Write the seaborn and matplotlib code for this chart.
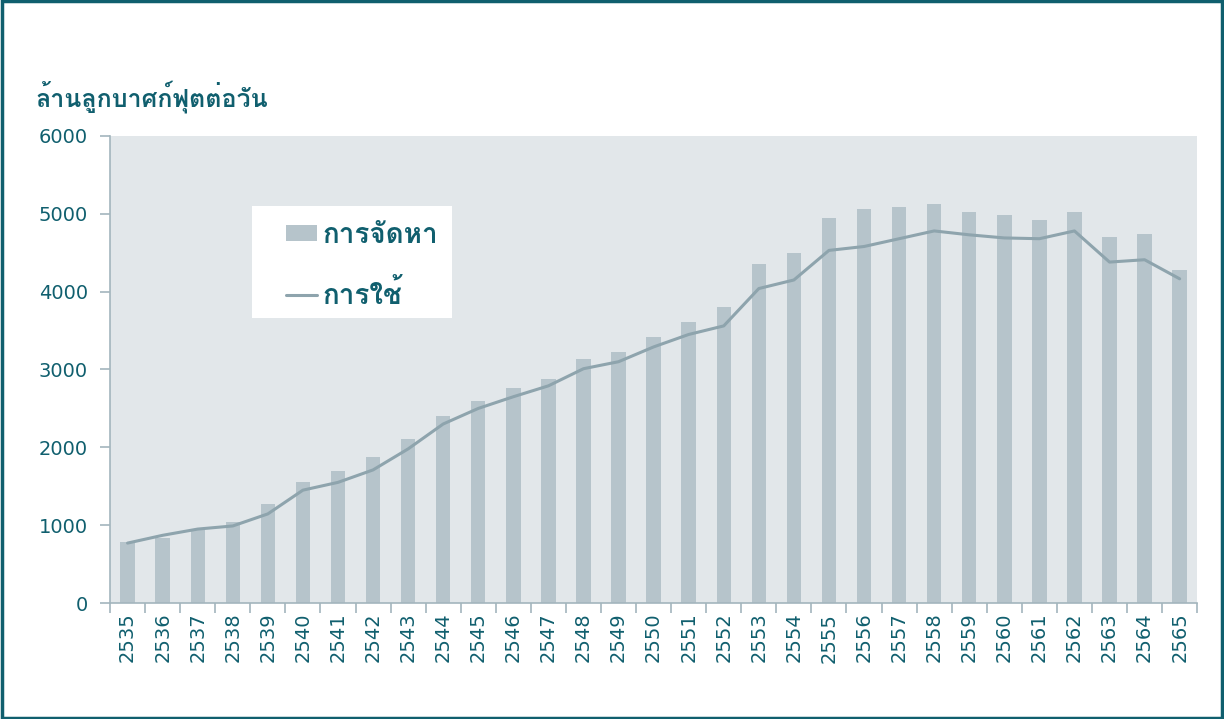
import matplotlib
matplotlib.use("Agg")
import matplotlib.pyplot as plt
from matplotlib import font_manager
from matplotlib.ft2font import FT2Font
from matplotlib.patches import Patch, Rectangle
from matplotlib.lines import Line2D
from matplotlib.ticker import FixedLocator
import seaborn as sns
import pandas as pd

# ข้อมูล (ล้านลูกบาศก์ฟุตต่อวัน)
years = [str(y) for y in range(2535, 2566)]
supply = [780, 835, 950, 1040, 1270, 1560, 1700, 1870, 2110, 2400,
          2600, 2760, 2880, 3140, 3220, 3420, 3610, 3800, 4360, 4500,
          4950, 5060, 5090, 5120, 5025, 4985, 4920, 5025, 4705, 4740, 4280]
usage = [770, 870, 950, 990, 1145, 1450, 1550, 1710, 1980, 2300,
         2500, 2650, 2790, 3010, 3100, 3290, 3450, 3560, 4040, 4150,
         4530, 4580, 4680, 4780, 4730, 4690, 4680, 4780, 4380, 4410, 4165]
legend_labels = ["การจัดหา", "การใช้"]
y_label = "ล้านลูกบาศก์ฟุตต่อวัน"

df = pd.DataFrame({"year": years, "supply": supply, "usage": usage})

teal = "#105f6e"
bar_c = "#b6c4cb"
line_c = "#8ea4ad"
axis_c = "#a3b5bd"

# หา font ที่มีอักษรไทย
thai_fonts = []
for f in font_manager.fontManager.ttflist:
    try:
        cm = FT2Font(f.fname).get_charmap()
        if 0x0E01 in cm and f.name not in thai_fonts:
            thai_fonts.append(f.name)
    except Exception:
        pass

sns.set_theme(style="white")
plt.rcParams["font.family"] = ["DejaVu Sans"] + thai_fonts

fig = plt.figure(figsize=(12.24, 7.19), dpi=100)
ax = fig.add_axes([0.0899, 0.1613, 0.8882, 0.6496])
ax.set_facecolor("#e2e7ea")

sns.barplot(data=df, x="year", y="supply", color=bar_c, width=0.41,
            saturation=1, edgecolor="none", linewidth=0, ax=ax)
sns.lineplot(data=df, x="year", y="usage", color=line_c, linewidth=2.2,
             sort=False, ax=ax)

ax.set_ylim(0, 6000)
ax.set_xlim(-0.5, len(years) - 0.5)
ax.set_yticks(range(0, 6001, 1000))
ax.set_xlabel("")
ax.set_ylabel("")

for s in ["top", "right"]:
    ax.spines[s].set_visible(False)
for s in ["left", "bottom"]:
    ax.spines[s].set_color(axis_c)
    ax.spines[s].set_linewidth(1.2)

ax.tick_params(axis="y", which="major", direction="out", length=7,
               width=1.2, color=axis_c, labelcolor=teal, labelsize=14,
               left=True, pad=9)
ax.tick_params(axis="x", which="major", length=0, labelcolor=teal,
               labelsize=14, labelrotation=90, pad=7)
ax.xaxis.set_minor_locator(FixedLocator([i - 0.5 for i in range(len(years) + 1)]))
ax.tick_params(axis="x", which="minor", direction="out", length=7,
               width=1.2, color=axis_c, bottom=True)

# กล่อง legend สีขาว
ax.add_patch(Rectangle((0.131, 0.610), 0.184, 0.240, transform=ax.transAxes,
                       facecolor="white", edgecolor="none", zorder=4))
handles = [Patch(facecolor=bar_c, edgecolor="none"),
           Line2D([0], [0], color=line_c, linewidth=2.2)]
leg = ax.legend(handles, legend_labels, loc="upper left",
                bbox_to_anchor=(0.162, 0.818), frameon=False,
                prop={"size": 20, "weight": "bold"}, labelspacing=1.1,
                borderpad=0, handlelength=1.12, handleheight=0.47,
                handletextpad=0.18, borderaxespad=0)
leg.set_zorder(5)
for t in leg.get_texts():
    t.set_color(teal)

fig.text(35 / 1224, 1 - 97 / 719, y_label, color=teal, fontsize=18,
         fontweight="bold", va="center", ha="left")

fig.patches.append(Rectangle((0.002, 0.002), 0.996, 0.996,
                             transform=fig.transFigure, fill=False,
                             edgecolor=teal, linewidth=2.5))

fig.savefig("out.png", dpi=100)
